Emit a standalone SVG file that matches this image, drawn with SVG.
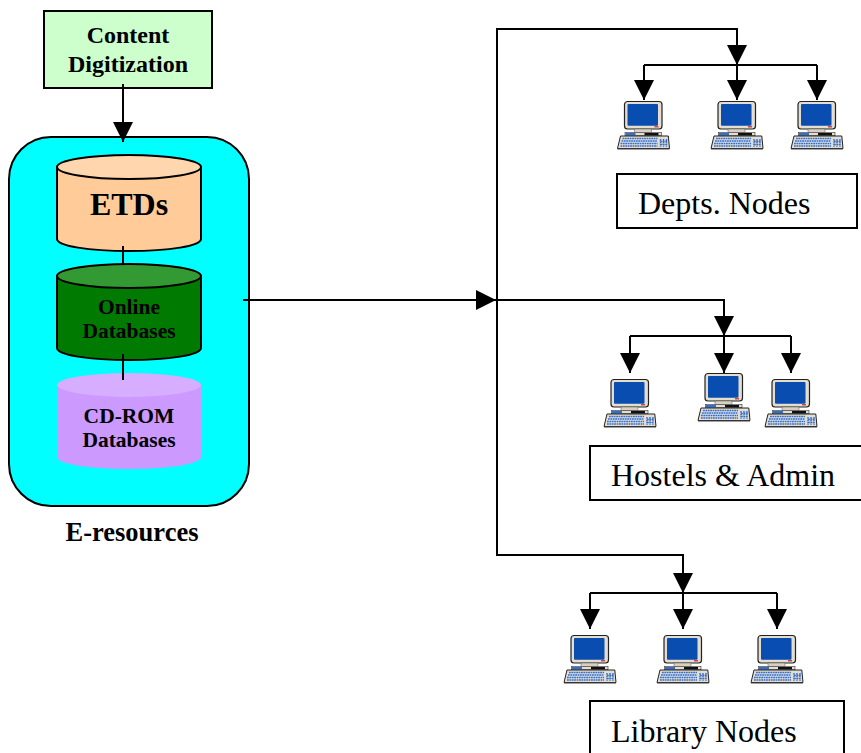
<svg xmlns="http://www.w3.org/2000/svg" xmlns:xlink="http://www.w3.org/1999/xlink" width="861" height="753" viewBox="0 0 861 753">
<style>
text{font-family:"Liberation Serif","Times New Roman",serif;fill:#000}
.b{font-weight:bold;text-anchor:middle}
.l{stroke:#000;stroke-width:2;fill:none}
.box{stroke:#000;stroke-width:2;fill:#fff}
.t{font-size:32px}
</style>
<defs>
<marker id="a" viewBox="0 0 20 20" refX="20" refY="10" markerWidth="20" markerHeight="20" markerUnits="userSpaceOnUse" orient="auto"><path d="M0 0L20 10L0 20Z" fill="#000"/></marker>
<symbol id="pc" overflow="visible" viewBox="0 0 1 1" width="1" height="1">
<rect x="-19" y="0.5" width="37.500" height="27.500" rx="3" fill="#e4ddd0" stroke="#222" stroke-width="1.200"/>
<rect x="-16" y="3" width="30.500" height="21.700" rx="1" fill="#0a4db0"/>
<rect x="11" y="25.200" width="4" height="1.200" fill="#c22"/>
<path d="M-9 28H8V31.500H-9Z" fill="#d8d0c0" stroke="#555" stroke-width=".5"/>
<rect x="-18.500" y="31.500" width="36.500" height="3.200" fill="#e4ddd0" stroke="#333" stroke-width=".6"/>
<rect x="-18" y="32" width="10" height="2.400" fill="#2f6fd0"/>
<rect x="1" y="32" width="14" height="2.400" fill="#111"/>
<path d="M-23 35H24.800L26 47.500H-26Z" fill="#e4ddd0" stroke="#222" stroke-width="1"/>
<path d="M-26 48H26" stroke="#444" stroke-width="1.200"/>
<path d="M-21 37.500H14M-22 40H14M-23 42.500H14M-23 45H14M17 38V46M20 38V46M23 38V46M17 40.500H24M17 43.500H24" stroke="#2f6fd8" stroke-width="1.400" stroke-dasharray="1.800 .6" fill="none"/>
</symbol>
</defs>
<rect width="861" height="753" fill="#fff"/>
<g id="content-digitization">
<rect x="44" y="11" width="168" height="77" fill="#ccffcc" stroke="#000" stroke-width="2"/>
<text class="b" x="128" y="43" font-size="24">Content</text>
<text class="b" x="128" y="72" font-size="24">Digitization</text>
</g>
<g id="e-resources">
<rect x="9" y="137" width="240" height="369" rx="42" fill="#00ffff" stroke="#000" stroke-width="2"/>
<text class="b" x="132" y="541" font-size="26.500">E-resources</text>
</g>
<g id="cd-rom">
<path d="M57 385V457C57 464 89 469 129 469S201 464 201 457V385Z" fill="#cc99ff"/>
<ellipse cx="129" cy="385" rx="72" ry="12" fill="#d6adff"/>
<text class="b" x="129" y="423" font-size="21.500">CD-ROM</text>
<text class="b" x="129" y="447" font-size="21.500">Databases</text>
</g>
<g id="online-databases">
<path d="M57 276V348C57 355 89 360 129 360S201 355 201 348V276Z" fill="#007a00" stroke="#000" stroke-width="2"/>
<ellipse cx="129" cy="276" rx="72" ry="12" fill="#339933" stroke="#000" stroke-width="2"/>
<text class="b" x="129" y="314" font-size="21.500">Online</text>
<text class="b" x="129" y="338" font-size="21.500">Databases</text>
</g>
<g id="etds">
<path d="M57 167V239C57 246 89 251 129 251S201 246 201 239V167Z" fill="#ffcc99" stroke="#000" stroke-width="2"/>
<ellipse cx="129" cy="167" rx="72" ry="12" fill="#ffd6ad" stroke="#000" stroke-width="2"/>
<text class="b" x="129" y="215" font-size="32">ETDs</text>
</g>
<g id="pc-row-1">
<use xlink:href="#pc" href="#pc" x="643.500" y="101"/>
<use xlink:href="#pc" href="#pc" x="737" y="101"/>
<use xlink:href="#pc" href="#pc" x="817" y="101"/>
</g>
<g id="depts-nodes">
<rect class="box" x="617" y="174" width="240" height="54"/>
<text class="t" x="638" y="214">Depts. Nodes</text>
</g>
<g id="pc-row-2">
<use xlink:href="#pc" href="#pc" x="630" y="379"/>
<use xlink:href="#pc" href="#pc" x="724" y="373"/>
<use xlink:href="#pc" href="#pc" x="791" y="379"/>
</g>
<g id="hostels-admin">
<rect class="box" x="590" y="446" width="275" height="54"/>
<text class="t" x="611" y="486">Hostels &amp; Admin</text>
</g>
<g id="pc-row-3">
<use xlink:href="#pc" href="#pc" x="590" y="635"/>
<use xlink:href="#pc" href="#pc" x="683" y="635"/>
<use xlink:href="#pc" href="#pc" x="777" y="635"/>
</g>
<g id="library-nodes">
<rect class="box" x="590" y="701" width="254" height="60"/>
<text class="t" x="611" y="742">Library Nodes</text>
</g>
<g id="connectors">
<path class="l" d="M123 84V142" marker-end="url(#a)"/>
<path class="l" d="M123 246V264M123 354V380"/>
<path class="l" d="M243 300H496" marker-end="url(#a)"/>
<path class="l" d="M497 300V29H737V65" marker-end="url(#a)"/>
<path class="l" d="M497 300V555H683V593" marker-end="url(#a)"/>
<path class="l" d="M497 300H724V336" marker-end="url(#a)"/>
<path class="l" d="M644 65V100" marker-end="url(#a)"/>
<path class="l" d="M737 65V100" marker-end="url(#a)"/>
<path class="l" d="M817 65V100" marker-end="url(#a)"/>
<path class="l" d="M644 65H817"/>
<path class="l" d="M630 336V373" marker-end="url(#a)"/>
<path class="l" d="M724 336V373" marker-end="url(#a)"/>
<path class="l" d="M791 336V373" marker-end="url(#a)"/>
<path class="l" d="M630 336H791"/>
<path class="l" d="M590 593V629" marker-end="url(#a)"/>
<path class="l" d="M683 593V629" marker-end="url(#a)"/>
<path class="l" d="M777 593V629" marker-end="url(#a)"/>
<path class="l" d="M590 593H777"/>
</g>
</svg>
